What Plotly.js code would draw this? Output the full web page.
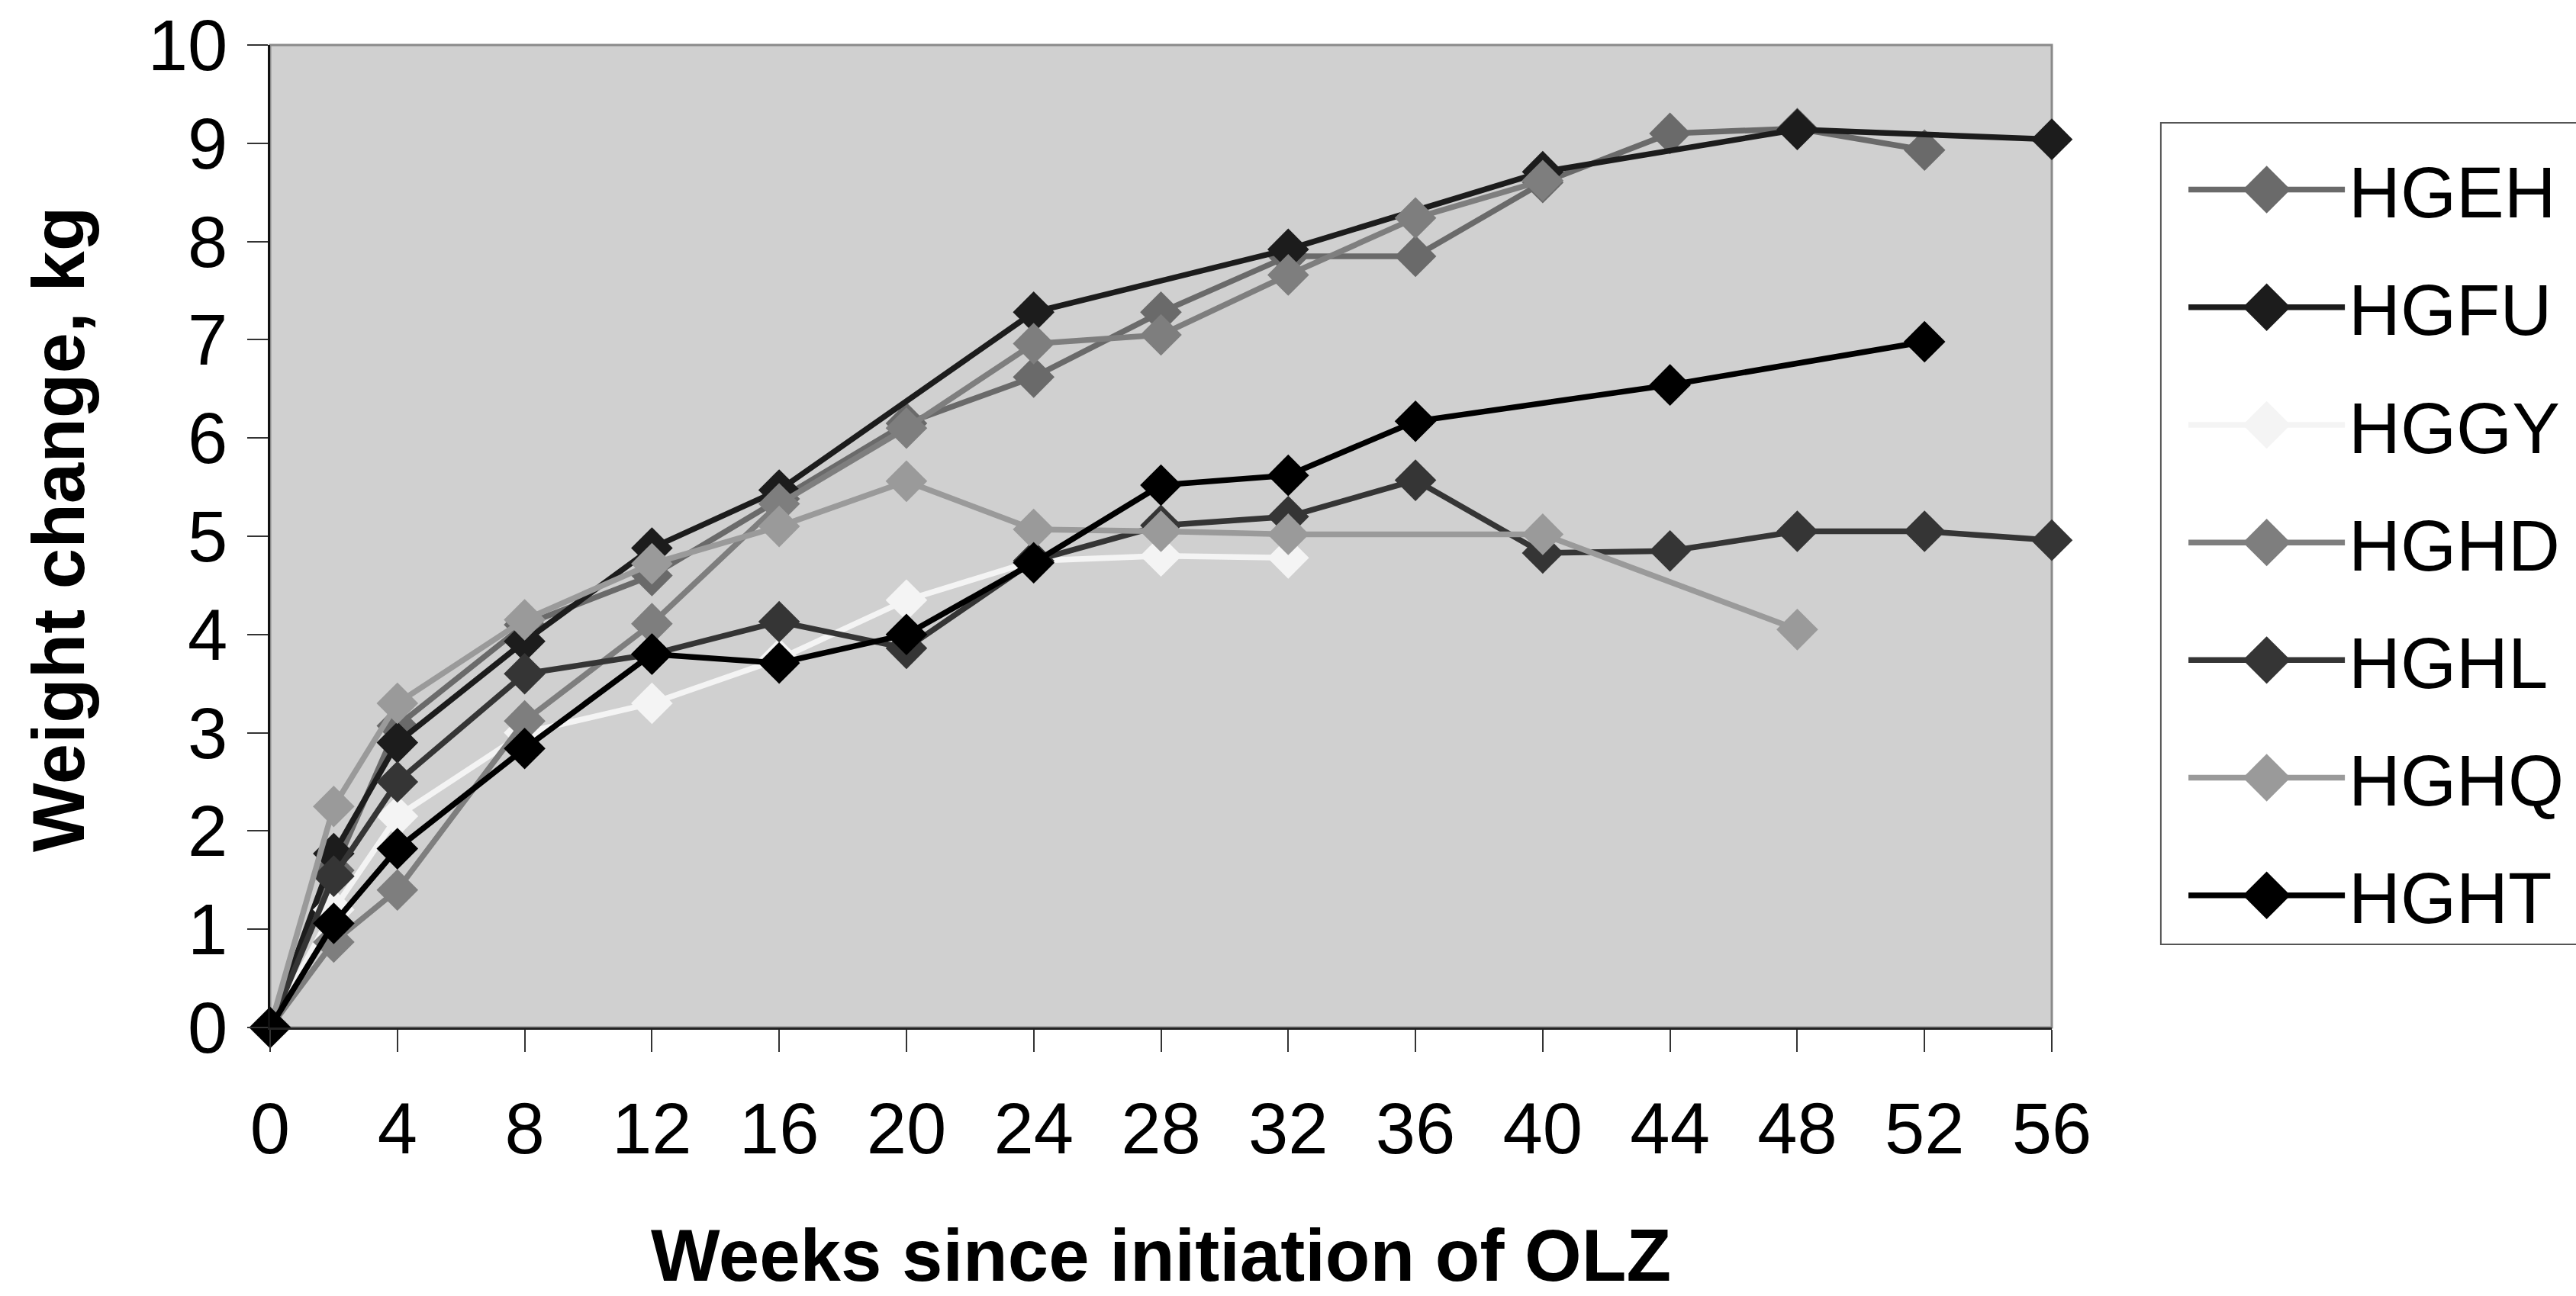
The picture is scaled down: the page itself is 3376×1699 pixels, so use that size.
<!DOCTYPE html>
<html>
<head>
<meta charset="utf-8">
<script src="https://cdn.plot.ly/plotly-3.0.1.min.js"></script>
<style>
  html, body { margin: 0; padding: 0; background: #ffffff; }
  #chart { width: 3376px; height: 1699px; }
</style>
</head>
<body>
<div id="chart"></div>
<script>
// ---- Data ----
const seriesNames = ["HGEH", "HGFU", "HGGY", "HGHD", "HGHL", "HGHQ", "HGHT"];

const HGEH_weeks = [0, 2, 4, 8, 12, 16, 20, 24, 28, 32, 36, 40, 44, 48, 52];
const HGEH_kg    = [0, 1.6, 3.07, 4.1, 4.6, 5.38, 6.15, 6.62, 7.28, 7.85, 7.85, 8.6, 9.1, 9.15, 8.93];

const HGFU_weeks = [0, 2, 4, 8, 12, 16, 24, 32, 40, 48, 56];
const HGFU_kg    = [0, 1.77, 2.9, 3.93, 4.88, 5.47, 7.28, 7.92, 8.71, 9.14, 9.04];

const HGGY_weeks = [0, 2, 4, 8, 12, 16, 20, 24, 28, 32];
const HGGY_kg    = [0, 1.2, 2.15, 3.0, 3.3, 3.75, 4.35, 4.75, 4.8, 4.78];

const HGHD_weeks = [0, 2, 4, 8, 12, 16, 20, 24, 28, 32, 36, 40];
const HGHD_kg    = [0, 0.87, 1.4, 3.12, 4.11, 5.33, 6.1, 6.96, 7.05, 7.66, 8.24, 8.62];

const HGHL_weeks = [0, 2, 4, 8, 12, 16, 20, 24, 28, 32, 36, 40, 44, 48, 52, 56];
const HGHL_kg    = [0, 1.54, 2.5, 3.6, 3.8, 4.13, 3.86, 4.75, 5.11, 5.2, 5.57, 4.83, 4.85, 5.05, 5.05, 4.96];

const HGHQ_weeks = [0, 2, 4, 8, 12, 16, 20, 24, 28, 32, 40, 48];
const HGHQ_kg    = [0, 2.25, 3.3, 4.15, 4.72, 5.1, 5.56, 5.07, 5.05, 5.02, 5.02, 4.05];

const HGHT_weeks = [0, 2, 4, 8, 12, 16, 20, 24, 28, 32, 36, 44, 52];
const HGHT_kg    = [0, 1.06, 1.82, 2.84, 3.8, 3.71, 4.0, 4.73, 5.52, 5.62, 6.17, 6.54, 6.98];

const xTickVals = [0, 4, 8, 12, 16, 20, 24, 28, 32, 36, 40, 44, 48, 52, 56];
const yTickVals = [0, 1, 2, 3, 4, 5, 6, 7, 8, 9, 10];

const xTitle = "Weeks since initiation of OLZ";
const yTitle = "Weight change, kg";

// ---- Styles ----
const seriesColors = {
  HGEH: "#6a6a6a",
  HGFU: "#1c1c1c",
  HGGY: "#f4f4f4",
  HGHD: "#7e7e7e",
  HGHL: "#353535",
  HGHQ: "#9a9a9a",
  HGHT: "#000000"
};

const dataMap = {
  HGEH: [HGEH_weeks, HGEH_kg],
  HGFU: [HGFU_weeks, HGFU_kg],
  HGGY: [HGGY_weeks, HGGY_kg],
  HGHD: [HGHD_weeks, HGHD_kg],
  HGHL: [HGHL_weeks, HGHL_kg],
  HGHQ: [HGHQ_weeks, HGHQ_kg],
  HGHT: [HGHT_weeks, HGHT_kg]
};

const FONT = "Liberation Sans, Arial, sans-serif";

const traces = seriesNames.map(name => ({
  type: "scatter",
  mode: "lines+markers",
  name: name,
  legendgroup: name,
  x: dataMap[name][0],
  y: dataMap[name][1],
  cliponaxis: false,
  line: { color: seriesColors[name], width: 7.5 },
  marker: { symbol: "diamond", size: 42, color: seriesColors[name], line: { width: 0 } }
}));

const layout = {
  width: 3376,
  height: 1699,
  margin: { l: 354, r: 686, t: 59, b: 352 },
  paper_bgcolor: "#ffffff",
  plot_bgcolor: "#d0d0d0",
  font: { family: FONT, color: "#000000", size: 94 },
  showlegend: true,
  legend: {
    x: 1.0741, xanchor: "left",
    y: 0.9053, yanchor: "top",
    bgcolor: "rgba(0,0,0,0)",
    borderwidth: 0,
    font: { family: FONT, size: 94, color: "#000000" },
    itemwidth: 205,
    tracegroupgap: 29,
    traceorder: "grouped"
  },
  xaxis: {
    range: [0, 56],
    tickmode: "array",
    tickvals: xTickVals,
    ticktext: xTickVals.map(String),
    ticks: "outside",
    ticklen: 29,
    tickwidth: 2,
    tickcolor: "#333333",
    ticklabelstandoff: 20,
    showline: true,
    linecolor: "#222222",
    linewidth: 3,
    showgrid: false,
    zeroline: false,
    tickfont: { family: FONT, size: 94, color: "#000000" },
    title: {
      text: xTitle,
      font: { family: FONT, size: 96, color: "#000000", weight: 700 },
      standoff: 97
    }
  },
  yaxis: {
    range: [0, 10],
    tickmode: "array",
    tickvals: yTickVals,
    ticktext: yTickVals.map(String),
    ticks: "outside",
    ticklen: 27,
    tickwidth: 2,
    tickcolor: "#333333",
    ticklabelstandoff: 7,
    showline: true,
    linecolor: "#111111",
    linewidth: 3,
    showgrid: false,
    zeroline: false,
    tickfont: { family: FONT, size: 94, color: "#000000" }
  },
  annotations: [
    { text: yTitle, xref: "paper", yref: "paper", x: -0.1186, y: 0.507,
      xanchor: "center", yanchor: "middle", textangle: -90, showarrow: false,
      font: { family: FONT, size: 96, color: "#000000", weight: 700 } }
  ],
  shapes: [
    { type: "rect", xref: "paper", yref: "paper", x0: 0, x1: 1, y0: 0, y1: 1,
      line: { color: "#8a8a8a", width: 3 }, layer: "below" },
    // legend frame
    { type: "rect", xref: "paper", yref: "paper", x0: 1.0612, x1: 1.2960, y0: 0.0846, y1: 0.9208,
      line: { color: "#555555", width: 2 }, fillcolor: "#ffffff", layer: "below" }
  ]
};

Plotly.newPlot("chart", traces, layout, { staticPlot: true }).then(gd => {
  // enlarge legend diamonds to match the chart's marker size
  document.querySelectorAll(".legend .legendpoints path.scatterpts").forEach(p => {
    const t = p.getAttribute("transform") || "";
    p.setAttribute("transform", t + " scale(3)");
  });
});
</script>
</body>
</html>
